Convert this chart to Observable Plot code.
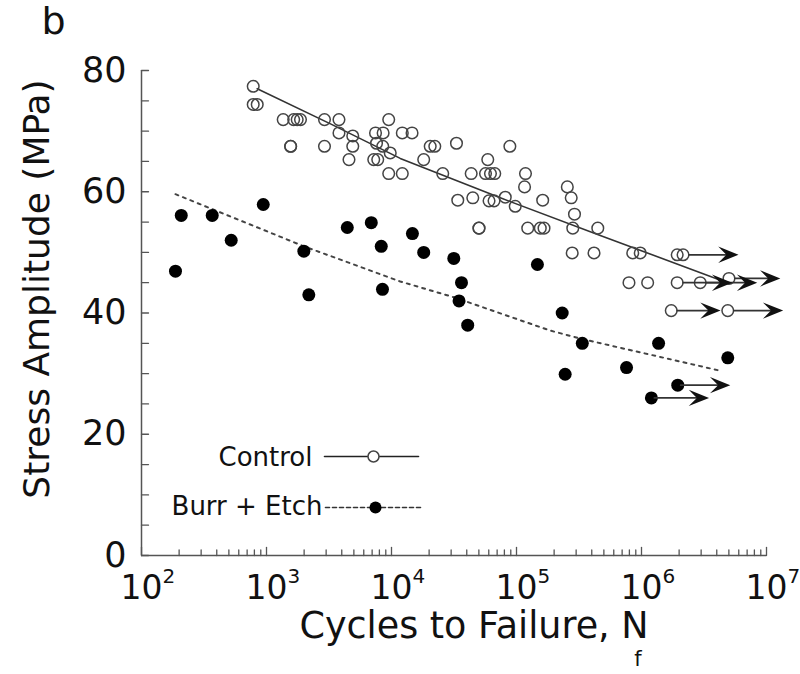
<!DOCTYPE html>
<html><head><meta charset="utf-8">
<script src="https://cdn.jsdelivr.net/npm/d3@7"></script>
<script src="https://cdn.jsdelivr.net/npm/@observablehq/plot@0.6"></script>
<style>body{margin:0;background:#fff}</style>
</head><body><div id="chart"></div>
<script>
// ---- Data ----
// Control: open circles (failures)
const controlN = [783, 783, 843, 1360, 1650, 1760, 1870, 1560, 1560, 2910, 3800, 2910, 3800, 4900, 4900, 4570,
  7450, 8570, 9500, 7590, 8510, 7210, 7760, 9770, 9500, 12200, 12200, 14600, 18100, 20400, 22200, 33100,
  88500, 25700, 58900, 43400, 56500, 61900, 67000, 118000, 116000, 255000, 274000, 291000, 33900, 44700,
  60300, 66100, 81300, 97700, 162000, 50100, 50100, 123000, 155000, 166000, 282000, 447000, 279000, 417000,
  851000, 977000, 794000, 1120000, 1930000];
const controlS = [77.4, 74.4, 74.4, 71.9, 71.9, 71.9, 71.9, 67.5, 67.5, 71.9, 71.9, 67.5, 69.7, 69.2, 67.5, 65.3,
  69.7, 69.7, 71.9, 68.0, 67.5, 65.3, 65.3, 66.4, 63.0, 63.0, 69.7, 69.7, 65.3, 67.5, 67.5, 68.0,
  67.5, 63.0, 65.3, 63.0, 63.0, 63.0, 63.0, 63.0, 60.8, 60.8, 59.0, 56.3, 58.6, 59.0,
  58.5, 58.5, 59.1, 57.6, 58.6, 54.0, 54.0, 54.0, 54.0, 54.0, 54.0, 54.0, 49.9, 49.9,
  49.9, 49.9, 45.0, 45.0, 49.6];
// Control run-outs (open circle + arrow)
const controlRunN   = [2150000, 1930000, 2950000, 5010000, 1730000, 4900000];
const controlRunS   = [49.6, 45.0, 45.0, 45.7, 40.4, 40.4];
const controlRunEnd = [5970000, 5320000, 8430000, 12900000, 4290000, 13600000];

// Burr + Etch: filled circles (failures)
const etchN = [208, 187, 368, 522, 942, 1990, 2180, 4430, 6890, 8280, 8470, 14700, 18100, 31500, 36300, 34700,
  40700, 147000, 232000, 336000, 245000, 759000, 1370000, 4900000];
const etchS = [56.1, 46.9, 56.1, 52.0, 57.9, 50.2, 43.0, 54.1, 54.9, 51.0, 43.9, 53.1, 50.0, 49.0, 45.0, 42.0,
  38.0, 48.0, 40.0, 35.0, 29.9, 31.0, 35.0, 32.6];
// Burr + Etch run-outs
const etchRunN   = [1950000, 1200000];
const etchRunS   = [28.1, 26.0];
const etchRunEnd = [5130000, 3470000];

// Trend lines (vertices)
const controlFitN = [843, 3250, 11750, 74100, 468000, 4290000];
const controlFitS = [77.0, 71.2, 65.5, 59.0, 52.8, 45.4];
const etchFitN = [187, 1990, 11750, 31500, 186000, 336000, 4420000];
const etchFitS = [59.6, 51.0, 45.2, 42.6, 37.1, 35.7, 30.4];

// Axis ticks / labels
const xTickValues = [1e2, 1e3, 1e4, 1e5, 1e6, 1e7];
const xTickExp = ["2", "3", "4", "5", "6", "7"];
const yTickValues = [0, 20, 40, 60, 80];
const yTickLabels = ["0", "20", "40", "60", "80"];
const yMinorStep = 5;

const panelLabel = "b";
const xTitle = "Cycles to Failure, N";
const xTitleSub = "f";
const yTitle = "Stress Amplitude (MPa)";
const legendLabels = ["Control", "Burr + Etch"];

// ---- Build tables ----
const zip = (a, b) => a.map((v, i) => ({N: v, S: b[i]}));
const control = zip(controlN, controlS);
const etch = zip(etchN, etchS);
const controlRun = controlRunN.map((v, i) => ({N: v, S: controlRunS[i], end: controlRunEnd[i]}));
const etchRun = etchRunN.map((v, i) => ({N: v, S: etchRunS[i], end: etchRunEnd[i]}));
const controlFit = zip(controlFitN, controlFitS);
const etchFit = zip(etchFitN, etchFitS);

const xMajor = xTickValues;
const xMinor = [];
for (let i = 0; i < xTickValues.length - 1; i++) for (let m = 2; m <= 9; m++) xMinor.push(xTickValues[i] * m);
const yTicksAll = d3.range(0, 80 + 1e-9, yMinorStep);

// custom shapes
const lineShape = {draw(ctx, l) { ctx.moveTo(0, 0); ctx.lineTo(0, -l); }};
const arrowHead = {draw(ctx, size) {
  const r = Math.sqrt(size / Math.PI);
  const L = r * 2.6, W = r * 1.05;
  ctx.moveTo(0, 0); ctx.lineTo(-L, -W); ctx.lineTo(-L * 0.6, 0); ctx.lineTo(-L, W); ctx.closePath();
}};

const axisColor = "#555";
const ringColor = "#444";

const chart = Plot.plot({
  width: 800, height: 674,
  marginLeft: 141, marginRight: 34, marginTop: 70, marginBottom: 119,
  x: {type: "log", domain: [1e2, 1e7], axis: null},
  y: {domain: [0, 80], axis: null},
  style: {fontFamily: "DejaVu Sans", background: "#fff", color: "#111", overflow: "visible"},
  marks: [
    // axes
    Plot.ruleX([1e2], {stroke: axisColor, strokeWidth: 1.5}),
    Plot.ruleY([0], {stroke: axisColor, strokeWidth: 1.5}),
    Plot.vector(yTicksAll, {y: d => d, frameAnchor: "left", length: 7, rotate: 90, anchor: "start", shape: lineShape, stroke: axisColor, strokeWidth: 1.3}),
    Plot.vector(xMajor, {x: d => d, frameAnchor: "bottom", length: 8, rotate: 0, anchor: "start", shape: lineShape, stroke: axisColor, strokeWidth: 1.3}),
    Plot.vector(xMinor, {x: d => d, frameAnchor: "bottom", length: 5.5, rotate: 0, anchor: "start", shape: lineShape, stroke: axisColor, strokeWidth: 1.3}),
    Plot.text(yTickValues, {y: d => d, text: (d, i) => yTickLabels[i], frameAnchor: "left", textAnchor: "end", lineAnchor: "middle", dx: -15, fontSize: 35, fill: "#111"}),
    Plot.text(xTickValues, {x: d => d, text: () => "10", frameAnchor: "bottom", textAnchor: "middle", lineAnchor: "bottom", dy: 43, fontSize: 33, fill: "#111"}),
    Plot.text(xTickValues, {x: d => d, text: (d, i) => xTickExp[i], frameAnchor: "bottom", textAnchor: "start", lineAnchor: "bottom", dx: 21, dy: 27, fontSize: 20, fill: "#111"}),
    // titles
    Plot.text([xTitle], {text: d => d, frameAnchor: "bottom", textAnchor: "middle", lineAnchor: "bottom", dx: 20, dy: 82, fontSize: 36.5, fill: "#111"}),
    Plot.text([xTitleSub], {text: d => d, frameAnchor: "bottom", textAnchor: "middle", lineAnchor: "bottom", dx: 184, dy: 110, fontSize: 21, fill: "#111"}),
    Plot.text([yTitle], {text: d => d, frameAnchor: "left", textAnchor: "middle", rotate: -90, lineAnchor: "bottom", dx: -93, dy: -24, fontSize: 36, fill: "#111"}),
    Plot.text([panelLabel], {text: d => d, frameAnchor: "top-left", textAnchor: "middle", lineAnchor: "bottom", dx: -88, dy: -37, fontSize: 38, fill: "#111"}),
    // trend lines
    Plot.line(controlFit, {x: "N", y: "S", stroke: "#333", strokeWidth: 1.6}),
    Plot.line(etchFit, {x: "N", y: "S", stroke: "#444", strokeWidth: 2, strokeDasharray: "3,5"}),
    // points
    Plot.dot(control, {x: "N", y: "S", r: 5.8, stroke: ringColor, strokeWidth: 1.5, fill: "none"}),
    Plot.dot(controlRun, {x: "N", y: "S", r: 5.8, stroke: ringColor, strokeWidth: 1.5, fill: "none"}),
    Plot.dot(etch, {x: "N", y: "S", r: 6.5, fill: "#000", stroke: "none"}),
    Plot.dot(etchRun, {x: "N", y: "S", r: 6.5, fill: "#000", stroke: "none"}),
    // run-out arrows
    Plot.arrow(controlRun, {x1: "N", x2: "end", y1: "S", y2: "S", insetStart: 6, insetEnd: 4, headLength: 0, stroke: "#333", strokeWidth: 1.8}),
    Plot.arrow(etchRun, {x1: "N", x2: "end", y1: "S", y2: "S", insetStart: 3, insetEnd: 4, headLength: 0, stroke: "#333", strokeWidth: 1.8}),
    Plot.dot(controlRun, {x: "end", y: "S", symbol: arrowHead, r: 7.8, fill: "#111", stroke: "none"}),
    Plot.dot(etchRun, {x: "end", y: "S", symbol: arrowHead, r: 7.8, fill: "#111", stroke: "none"}),
    // legend (inside frame)
    Plot.text([legendLabels[0]], {text: d => d, frameAnchor: "bottom-left", textAnchor: "start", lineAnchor: "middle", dx: 77, dy: -98, fontSize: 26, fill: "#111"}),
    Plot.vector([0], {x: null, y: null, frameAnchor: "bottom-left", dx: 183, dy: -99, length: 94, rotate: 90, anchor: "start", shape: lineShape, stroke: "#222", strokeWidth: 1.6}),
    Plot.dot([0], {x: null, y: null, frameAnchor: "bottom-left", dx: 232, dy: -99, r: 5.5, stroke: ringColor, strokeWidth: 1.5, fill: "#fff"}),
    Plot.text([legendLabels[1]], {text: d => d, frameAnchor: "bottom-left", textAnchor: "end", lineAnchor: "middle", dx: 181, dy: -49, fontSize: 26, fill: "#111"}),
    Plot.vector([0], {x: null, y: null, frameAnchor: "bottom-left", dx: 184, dy: -48, length: 97, rotate: 90, anchor: "start", shape: lineShape, stroke: "#333", strokeWidth: 1.6, strokeDasharray: "4,3"}),
    Plot.dot([0], {x: null, y: null, frameAnchor: "bottom-left", dx: 234, dy: -48, r: 6, fill: "#000", stroke: "none"})
  ]
});
document.getElementById("chart").appendChild(chart);
</script>
</body></html>
